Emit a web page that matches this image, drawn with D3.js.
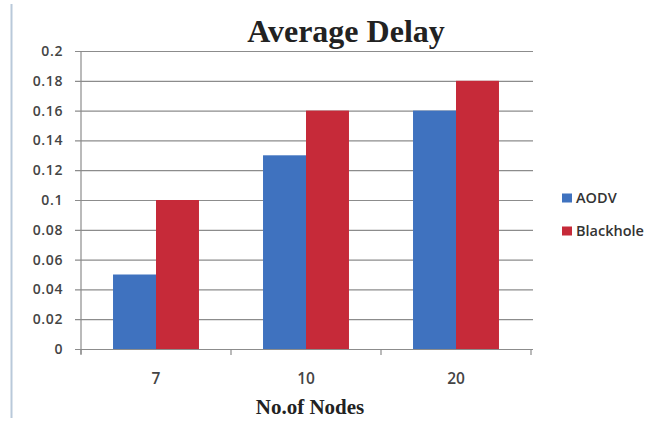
<!DOCTYPE html>
<html>
<head>
<meta charset="utf-8">
<script src="https://cdn.jsdelivr.net/npm/d3@7"></script>
<style>
  html, body { margin: 0; padding: 0; background: #fff; }
  svg { display: block; }
</style>
</head>
<body>
<svg id="chart" width="652" height="425"></svg>
<script>
// Average delay per node count, for plain AODV and with a blackhole node
const nodeCounts = ["7", "10", "20"];
const seriesNames = ["AODV", "Blackhole"];
const aodvDelay = [0.05, 0.13, 0.16];
const blackholeDelay = [0.10, 0.16, 0.18];
const yTicks = [0, 0.02, 0.04, 0.06, 0.08, 0.1, 0.12, 0.14, 0.16, 0.18, 0.2];
const seriesColors = ["#3f72bf", "#c62a39"];

const seriesValues = [aodvDelay, blackholeDelay];
const rows = nodeCounts.map((n, i) => ({
  nodes: n,
  values: seriesNames.map((s, j) => ({ series: s, value: seriesValues[j][i] }))
}));

const svg = d3.select("#chart");
const plotLeft = 81, plotRight = 531, plotTop = 51, plotBottom = 349;
const labelFont = "'Open Sans', 'DejaVu Sans', sans-serif";
const titleFont = "'Liberation Serif', 'Times New Roman', serif";

// Outer frame edge on the left
svg.append("line")
  .attr("x1", 11.5).attr("x2", 11.5).attr("y1", 4).attr("y2", 418)
  .attr("stroke", "#b9c9da").attr("stroke-width", 2);

const x = d3.scaleBand().domain(nodeCounts).range([plotLeft, plotRight])
  .paddingInner(0.427).paddingOuter(0.2135);
const xStep = (plotRight - plotLeft) / nodeCounts.length;
const xInner = d3.scaleBand().domain(seriesNames).range([0, x.bandwidth()]);
const y = d3.scaleLinear().domain([0, 0.2]).range([plotBottom, plotTop]);

// Horizontal gridlines with left ticks
const yAxis = d3.axisLeft(y).tickValues(yTicks)
  .tickFormat(d => d3.format("~g")(+d.toFixed(2)))
  .tickSize(-(plotRight + 2 - plotLeft)).tickPadding(18);
const gy = svg.append("g").attr("transform", `translate(${plotLeft},0)`).call(yAxis);
gy.select(".domain").remove();
gy.selectAll(".tick line").attr("x1", -6).attr("stroke", "#8c8c8c").attr("stroke-width", 1.2);
gy.selectAll(".tick text")
  .attr("font-family", labelFont).attr("letter-spacing", 0.6)
  .attr("font-size", 14).attr("font-weight", 600).attr("fill", "#444");

// Vertical value axis line
svg.append("line").attr("x1", plotLeft).attr("x2", plotLeft).attr("y1", plotTop).attr("y2", plotBottom + 5)
  .attr("stroke", "#8c8c8c").attr("stroke-width", 1.2);

// Bars
const groups = svg.append("g").selectAll("g").data(rows).join("g")
  .attr("transform", d => `translate(${x(d.nodes)},0)`);
groups.selectAll("rect").data(d => d.values).join("rect")
  .attr("x", d => xInner(d.series))
  .attr("y", d => y(d.value))
  .attr("width", xInner.bandwidth())
  .attr("height", d => y(0) - y(d.value))
  .attr("fill", (d, i) => seriesColors[i]);

// Category axis
const xAxis = d3.axisBottom(x).tickSize(0).tickPadding(24);
const gx = svg.append("g").attr("transform", `translate(0,${plotBottom})`).call(xAxis);
gx.select(".domain").attr("stroke", "#8c8c8c").attr("stroke-width", 1.2);
gx.selectAll(".tick text")
  .attr("font-family", labelFont)
  .attr("font-size", 15.5).attr("font-weight", 600).attr("fill", "#444");
// band boundary ticks
gx.append("g").selectAll("line").data(d3.range(nodeCounts.length + 1)).join("line")
  .attr("x1", i => plotLeft + i * xStep).attr("x2", i => plotLeft + i * xStep)
  .attr("y1", 0).attr("y2", 6)
  .attr("stroke", "#8c8c8c").attr("stroke-width", 1.2);

// Title and axis title
svg.append("text").attr("x", 346).attr("y", 42).attr("text-anchor", "middle")
  .attr("font-family", titleFont)
  .attr("font-size", 32).attr("font-weight", "bold").attr("fill", "#222")
  .text("Average Delay");
svg.append("text").attr("x", 310).attr("y", 414).attr("text-anchor", "middle")
  .attr("font-family", titleFont)
  .attr("font-size", 21).attr("font-weight", "bold").attr("fill", "#222")
  .text("No.of Nodes");

// Legend
const legend = svg.append("g").selectAll("g").data(seriesNames).join("g")
  .attr("transform", (d, i) => `translate(562,${198 + i * 33})`);
legend.append("rect").attr("x", 0).attr("y", -4.5).attr("width", 10).attr("height", 9)
  .attr("fill", (d, i) => seriesColors[i]);
legend.append("text").attr("x", 14).attr("y", 5)
  .attr("font-family", labelFont)
  .attr("font-size", 14.5).attr("font-weight", 600).attr("fill", "#333")
  .text(d => d);
</script>
</body>
</html>
